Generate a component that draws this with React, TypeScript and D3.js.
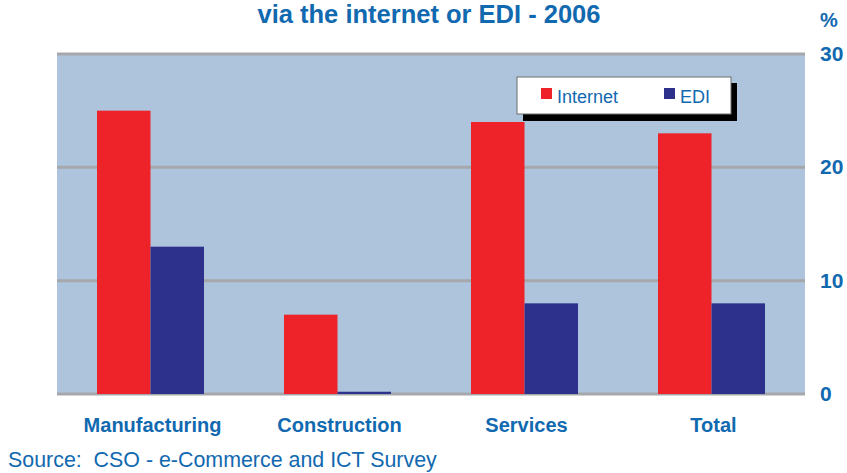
import React from "react";
import * as d3 from "d3";

const categories = ["Manufacturing", "Construction", "Services", "Total"];
const seriesNames = ["Internet", "EDI"];
const internetValues = [25, 7, 24, 23];
const ediValues = [13, 0.2, 8, 8];
const yTicks = [0, 10, 20, 30];

const W = 847;
const H = 473;
const plotLeft = 57;
const plotRight = 805;
const plotTop = 54;
const plotBottom = 394;
const textBlue = "#1169b0";
const colors = ["#ee2229", "#2e318c"];
const font = "'Liberation Sans', Arial, sans-serif";

export default function App() {
  const y = d3.scaleLinear().domain([0, 30]).range([plotBottom, plotTop]);
  const x0 = d3.scaleBand<string>().domain(categories).range([plotLeft, plotRight]).paddingInner(0).paddingOuter(0);
  const x1 = d3.scaleBand<string>().domain(seriesNames).range([0, 107]).padding(0);
  const series = [internetValues, ediValues];

  return (
    <svg width={W} height={H} style={{ position: "absolute", left: 0, top: 0, fontFamily: font }}>
      <rect x={0} y={0} width={W} height={H} fill="#ffffff" />
      <text x={429} y={23} textAnchor="middle" fontSize={25.5} fontWeight="bold" fill={textBlue}>
        via the internet or EDI - 2006
      </text>
      <text x={829} y={27} textAnchor="middle" fontSize={20} fontWeight="bold" fill={textBlue}>%</text>
      <rect x={plotLeft} y={plotTop} width={plotRight - plotLeft} height={plotBottom - plotTop} fill="#aec4dc" />
      {yTicks.map((t) => (
        <g key={t}>
          <line x1={plotLeft} x2={plotRight} y1={y(t)} y2={y(t)} stroke="#a5a7aa" strokeWidth={3} />
          <text x={820} y={y(t) + 7} textAnchor="start" fontSize={21} fontWeight="bold" fill={textBlue}>{t}</text>
        </g>
      ))}
      {categories.map((c, i) => {
        const gx = (x0(c) as number) + x0.bandwidth() / 2 - 53.5;
        return (
          <g key={c}>
            {seriesNames.map((s, j) => (
              <rect
                key={s}
                x={gx + (x1(s) as number)}
                y={y(series[j][i])}
                width={x1.bandwidth()}
                height={plotBottom - y(series[j][i])}
                fill={colors[j]}
              />
            ))}
            <text
              x={(x0(c) as number) + x0.bandwidth() / 2 + 2}
              y={432}
              textAnchor="middle"
              fontSize={20}
              fontWeight="bold"
              fill={textBlue}
            >
              {c}
            </text>
          </g>
        );
      })}
      <g>
        <rect x={523} y={83} width={214} height={38} fill="#000000" />
        <rect x={517} y={77} width={214} height={37} fill="#ffffff" stroke="#6d6e71" strokeWidth={1} />
        <rect x={541} y={88} width={11} height={11} fill={colors[0]} />
        <text x={557} y={103} fontSize={18} fill={textBlue}>{seriesNames[0]}</text>
        <rect x={664} y={88} width={11} height={11} fill={colors[1]} />
        <text x={680} y={103} fontSize={18} fill={textBlue}>{seriesNames[1]}</text>
      </g>
      <text x={8} y={467} fontSize={21.4} fill={textBlue} style={{ whiteSpace: "pre" }}>
        {"Source:\u00a0 CSO - e-Commerce and ICT Survey"}
      </text>
    </svg>
  );
}
